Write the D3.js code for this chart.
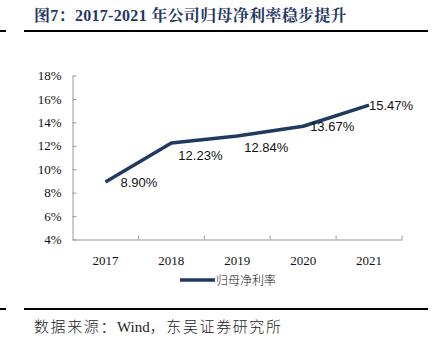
<!DOCTYPE html>
<html><head><meta charset="utf-8">
<script src="https://cdn.jsdelivr.net/npm/d3@7"></script>
<style>body{margin:0;background:#fff}svg{display:block}</style>
</head><body>
<script>
const categories = ["2017","2018","2019","2020","2021"];
const values = [8.90, 12.23, 12.84, 13.67, 15.47];
const valueLabels = ["8.90%","12.23%","12.84%","13.67%","15.47%"];
const yTicks = [4,6,8,10,12,14,16,18];
const seriesName = "归母净利率";
const titleText = "图7：2017-2021 年公司归母净利率稳步提升";
const sourceParts = ["数据来源：", "Wind", "，东吴证券研究所"];

const W = 434, H = 347;
const svg = d3.select("body").append("svg").attr("width", W).attr("height", H);
const navy = "#1f3a60";
const titleColor = "#1f3864";

// title and rules
svg.append("text").attr("x", 34).attr("y", 21).attr("fill", titleColor)
  .attr("font-family", "'Liberation Serif','Noto Serif CJK SC','Noto Sans CJK SC',serif")
  .attr("font-weight", "bold").attr("font-size", 16).attr("letter-spacing", 0.3).text(titleText);
svg.append("line").attr("x1", 24).attr("x2", 428).attr("y1", 31).attr("y2", 31).attr("stroke", "#000").attr("stroke-width", 2);
svg.append("line").attr("x1", 0).attr("x2", 6).attr("y1", 31).attr("y2", 31).attr("stroke", "#000").attr("stroke-width", 2);
svg.append("line").attr("x1", 24).attr("x2", 428).attr("y1", 309).attr("y2", 309).attr("stroke", "#000").attr("stroke-width", 2);
svg.append("line").attr("x1", 0).attr("x2", 6).attr("y1", 309).attr("y2", 309).attr("stroke", "#000").attr("stroke-width", 2);
const src = svg.append("text").attr("x", 34).attr("y", 332).attr("fill", "#222")
  .attr("font-family", "'Liberation Serif','Noto Sans CJK SC',serif")
  .attr("font-size", 15).attr("font-weight", 300);
src.append("tspan").attr("letter-spacing", 1.6).text(sourceParts[0]);
src.append("tspan").text(sourceParts[1]);
src.append("tspan").attr("letter-spacing", 1.6).text(sourceParts[2]);

// scales
const x = d3.scaleBand().domain(categories).range([72.5, 402]);
const y = d3.scaleLinear().domain([4, 18]).range([239.5, 75.5]);

// y axis
const yAxis = svg.append("g").attr("transform", "translate(72.5,0)")
  .call(d3.axisLeft(y).tickValues(yTicks).tickFormat(d => d + "%").tickSizeInner(-4).tickSizeOuter(0).tickPadding(11));
yAxis.select(".domain").attr("stroke", "#999");
yAxis.selectAll(".tick line").attr("stroke", "#999");
yAxis.selectAll("text").attr("font-family", "'Liberation Serif',serif").attr("font-size", 13).attr("fill", "#111");

// x axis
const xAxis = svg.append("g").attr("transform", "translate(0,239.5)")
  .call(d3.axisBottom(x).tickSize(0).tickPadding(16));
xAxis.select(".domain").attr("stroke", "#999");
xAxis.selectAll("text").attr("font-family", "'Liberation Serif',serif").attr("font-size", 13).attr("fill", "#111");
// category boundary ticks (inside)
svg.append("g").selectAll("line").data(categories).join("line")
  .attr("x1", d => x(d) + x.bandwidth()).attr("x2", d => x(d) + x.bandwidth())
  .attr("y1", 239.5).attr("y2", 235.5).attr("stroke", "#999");

// line
const cx = d => x(d) + x.bandwidth() / 2;
const line = d3.line().x((d, i) => cx(categories[i])).y(d => y(d));
svg.append("path").datum(values).attr("d", line).attr("fill", "none")
  .attr("stroke", navy).attr("stroke-width", 3.5).attr("stroke-linejoin", "round");

// data labels
const labelDy = [5, 17, 16, 5, 5];
svg.append("g").selectAll("text").data(values).join("text")
  .attr("x", (d, i) => cx(categories[i]) + (i === 0 ? 15 : i === 4 ? 0 : 7))
  .attr("y", (d, i) => y(d) + labelDy[i])
  .attr("font-family", "'Liberation Sans',Arial,sans-serif").attr("font-size", 13).attr("fill", "#111")
  .text((d, i) => valueLabels[i]);

// legend
svg.append("line").attr("x1", 180).attr("x2", 215).attr("y1", 280).attr("y2", 280)
  .attr("stroke", navy).attr("stroke-width", 3.5);
svg.append("text").attr("x", 216).attr("y", 284.5)
  .attr("font-family", "'Noto Sans CJK SC',sans-serif").attr("font-size", 12).attr("font-weight", 300).attr("fill", "#111")
  .text(seriesName);
</script>
</body></html>
